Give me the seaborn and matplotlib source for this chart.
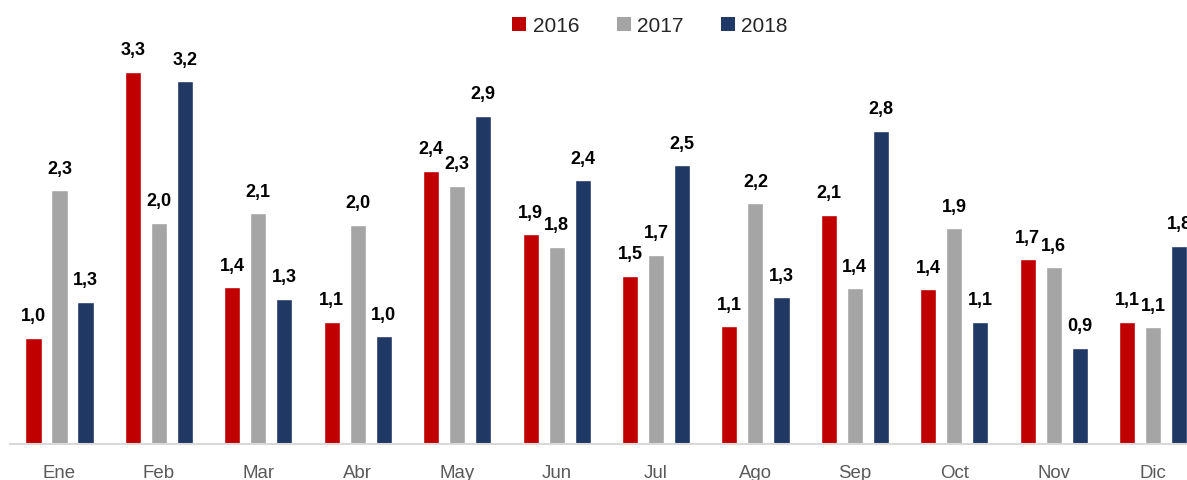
import pandas as pd
import matplotlib
matplotlib.use("Agg")
import matplotlib.pyplot as plt
from matplotlib.patches import Patch
import seaborn as sns

meses = ["Ene", "Feb", "Mar", "Abr", "May", "Jun", "Jul", "Ago", "Sep", "Oct", "Nov", "Dic"]
anios = ["2016", "2017", "2018"]

v2016 = [0.99, 3.30, 1.43, 1.13, 2.44, 1.89, 1.53, 1.09, 2.06, 1.41, 1.67, 1.13]
v2017 = [2.27, 1.99, 2.07, 1.97, 2.31, 1.78, 1.71, 2.16, 1.42, 1.94, 1.60, 1.08]
v2018 = [1.30, 3.22, 1.33, 1.00, 2.92, 2.36, 2.49, 1.34, 2.79, 1.13, 0.90, 1.79]

colores = ["#C00000", "#A5A5A5", "#203864"]

df = pd.DataFrame({
    "mes": meses * 3,
    "anio": [a for a in anios for _ in meses],
    "valor": v2016 + v2017 + v2018,
})

sns.set_style("white")
plt.rcParams["font.family"] = ["Liberation Sans", "DejaVu Sans"]

fig = plt.figure(figsize=(11.87, 4.8), dpi=100)
ax = fig.add_axes([9.8 / 1187, 36 / 480, 1193 / 1187, 444 / 480])

sns.barplot(data=df, x="mes", y="valor", hue="anio", hue_order=anios,
            palette=colores, order=meses, width=0.785, gap=0.38,
            errorbar=None, legend=False, saturation=1, ax=ax)

# etiquetas de valor con coma decimal
for cont, vals in zip(ax.containers, [v2016, v2017, v2018]):
    etiquetas = [f"{v:.1f}".replace(".", ",") for v in vals]
    ax.bar_label(cont, labels=etiquetas, padding=9.0, fontsize=13,
                 fontweight="bold", color="black")

ax.set_xlim(-0.5, 11.5)
ax.set_ylim(0.065, 0.065 + 444 / 115)
ax.set_xlabel("")
ax.set_ylabel("")
ax.set_yticks([])
ax.tick_params(axis="x", length=0, pad=15, labelsize=13.4, labelcolor="#595959")

for lado in ["top", "left", "right"]:
    ax.spines[lado].set_visible(False)
ax.spines["bottom"].set_color("#D9D9D9")
ax.spines["bottom"].set_linewidth(1.5)

handles = [Patch(facecolor=c, edgecolor="none") for c in colores]
fig.legend(handles, anios, loc="center", bbox_to_anchor=(650 / 1187, 1 - 26 / 480),
           ncol=3, frameon=False, fontsize=15, handlelength=0.68, handleheight=0.68,
           handletextpad=0.3, columnspacing=1.8, borderpad=0)

fig.savefig("out.png", dpi=100)
